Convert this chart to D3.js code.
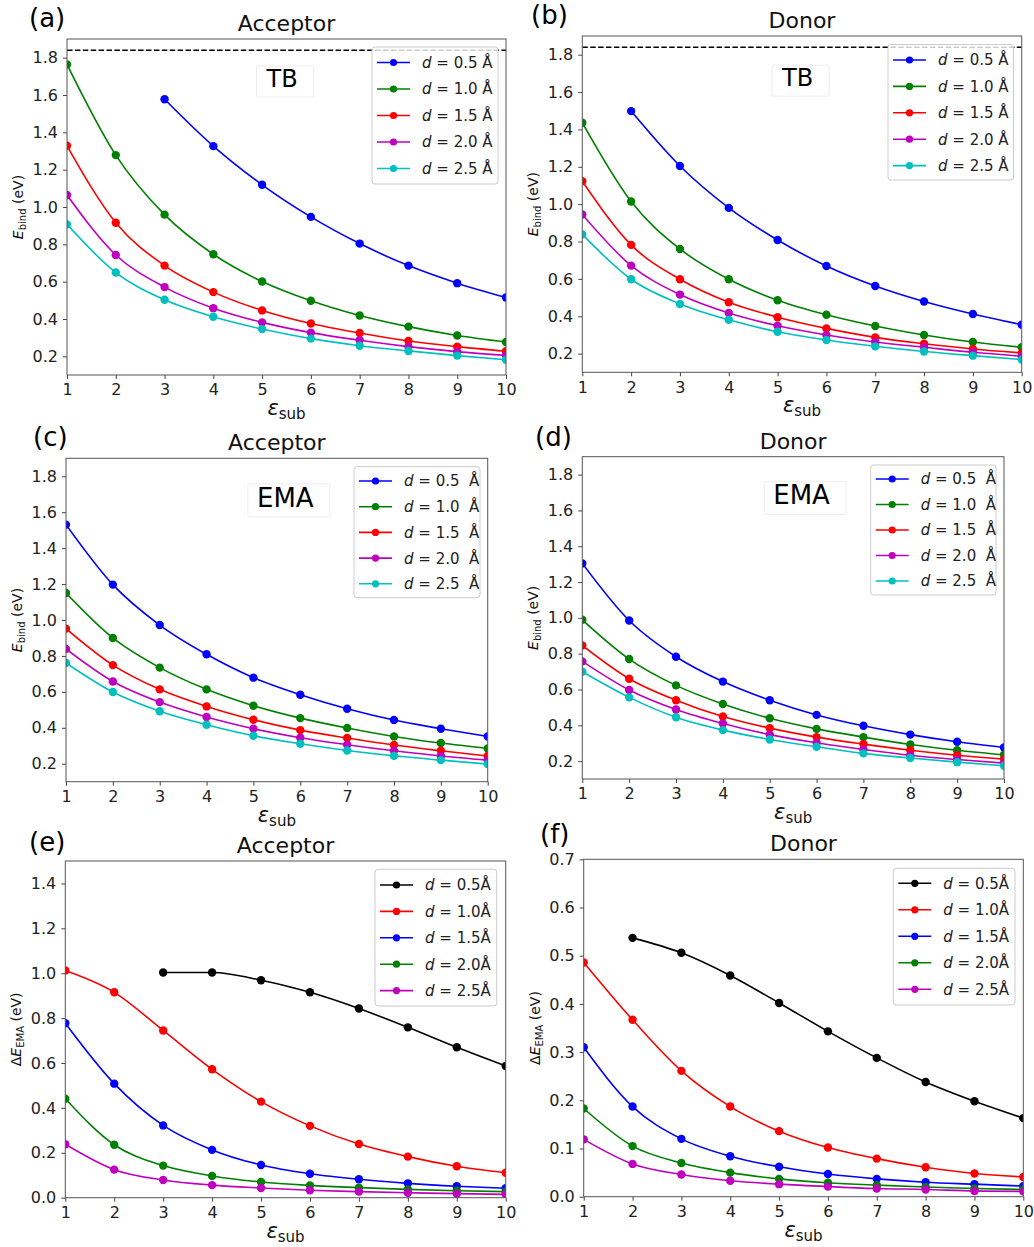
<!DOCTYPE html>
<html>
<head>
<meta charset="utf-8">
<script src="https://cdn.jsdelivr.net/npm/d3@7"></script>
<style>
  html, body { margin: 0; padding: 0; background: #fff; }
  svg { display: block; font-family: "DejaVu Sans", sans-serif; }
</style>
</head>
<body>
<svg id="fig" width="1034" height="1247"></svg>
<script>
// ---------------- data ----------------
const epsSub = [1, 2, 3, 4, 5, 6, 7, 8, 9, 10];
const dLabels = ["0.5", "1.0", "1.5", "2.0", "2.5"];
const ebindTicks = [0.2, 0.4, 0.6, 0.8, 1.0, 1.2, 1.4, 1.6, 1.8];
const deltaAccTicks = [0.0, 0.2, 0.4, 0.6, 0.8, 1.0, 1.2, 1.4];
const deltaDonTicks = [0.0, 0.1, 0.2, 0.3, 0.4, 0.5, 0.6, 0.7];
const xTicks = [1, 2, 3, 4, 5, 6, 7, 8, 9, 10];
const tbGapLine = 1.84;

// (a) TB acceptor
const tbAcc05 = [null, null, 1.577, 1.326, 1.119, 0.947, 0.804, 0.686, 0.592, 0.515];
const tbAcc10 = [1.764, 1.278, 0.959, 0.747, 0.601, 0.498, 0.419, 0.359, 0.312, 0.277];
const tbAcc15 = [1.328, 0.916, 0.686, 0.544, 0.446, 0.376, 0.325, 0.282, 0.252, 0.227];
const tbAcc20 = [1.064, 0.743, 0.571, 0.458, 0.382, 0.327, 0.286, 0.252, 0.225, 0.204];
const tbAcc25 = [0.907, 0.649, 0.503, 0.412, 0.346, 0.295, 0.257, 0.229, 0.204, 0.182];
// (b) TB donor
const tbDon05 = [null, 1.498, 1.204, 0.980, 0.808, 0.669, 0.562, 0.479, 0.412, 0.355];
const tbDon10 = [1.436, 1.014, 0.760, 0.598, 0.486, 0.408, 0.348, 0.300, 0.262, 0.234];
const tbDon15 = [1.123, 0.782, 0.598, 0.475, 0.395, 0.335, 0.287, 0.253, 0.225, 0.204];
const tbDon20 = [0.945, 0.671, 0.516, 0.417, 0.349, 0.300, 0.262, 0.234, 0.207, 0.186];
const tbDon25 = [0.838, 0.598, 0.466, 0.381, 0.317, 0.273, 0.239, 0.211, 0.189, 0.168];
// (c) EMA acceptor
const emaAcc05 = [1.531, 1.197, 0.972, 0.809, 0.679, 0.584, 0.506, 0.443, 0.395, 0.352];
const emaAcc10 = [1.150, 0.900, 0.735, 0.614, 0.523, 0.454, 0.399, 0.352, 0.315, 0.285];
const emaAcc15 = [0.952, 0.749, 0.614, 0.519, 0.445, 0.387, 0.343, 0.304, 0.272, 0.243];
const emaAcc20 = [0.839, 0.658, 0.543, 0.460, 0.395, 0.345, 0.306, 0.272, 0.243, 0.220];
const emaAcc25 = [0.761, 0.599, 0.492, 0.417, 0.356, 0.311, 0.274, 0.244, 0.220, 0.198];
// (d) EMA donor
const emaDon05 = [1.304, 0.985, 0.783, 0.644, 0.540, 0.458, 0.397, 0.348, 0.308, 0.276];
const emaDon10 = [0.989, 0.770, 0.623, 0.519, 0.439, 0.380, 0.334, 0.293, 0.261, 0.235];
const emaDon15 = [0.846, 0.660, 0.540, 0.449, 0.384, 0.334, 0.295, 0.261, 0.233, 0.211];
const emaDon20 = [0.757, 0.597, 0.488, 0.410, 0.348, 0.302, 0.265, 0.233, 0.209, 0.189];
const emaDon25 = [0.699, 0.556, 0.445, 0.373, 0.321, 0.280, 0.243, 0.217, 0.194, 0.174];
// (e) Delta E_EMA acceptor
const dAcc05 = [null, null, 1.003, 1.003, 0.969, 0.915, 0.843, 0.759, 0.670, 0.587];
const dAcc10 = [1.012, 0.915, 0.745, 0.572, 0.428, 0.320, 0.239, 0.183, 0.140, 0.111];
const dAcc15 = [0.777, 0.508, 0.322, 0.213, 0.146, 0.107, 0.082, 0.064, 0.051, 0.042];
const dAcc20 = [0.441, 0.236, 0.143, 0.097, 0.070, 0.055, 0.045, 0.037, 0.031, 0.027];
const dAcc25 = [0.238, 0.125, 0.079, 0.056, 0.043, 0.033, 0.027, 0.022, 0.018, 0.015];
// (f) Delta E_EMA donor
const dDon05 = [null, 0.537, 0.506, 0.459, 0.402, 0.343, 0.288, 0.238, 0.198, 0.163];
const dDon10 = [0.486, 0.367, 0.261, 0.187, 0.136, 0.102, 0.079, 0.061, 0.048, 0.041];
const dDon15 = [0.310, 0.187, 0.120, 0.084, 0.062, 0.047, 0.037, 0.030, 0.026, 0.022];
const dDon20 = [0.183, 0.105, 0.070, 0.050, 0.037, 0.029, 0.024, 0.020, 0.017, 0.015];
const dDon25 = [0.119, 0.068, 0.046, 0.033, 0.026, 0.021, 0.017, 0.015, 0.012, 0.011];

const colorsEbind = ["#0000ff", "#008000", "#ff0000", "#bf00bf", "#00bfbf"];
const colorsDelta = ["#000000", "#ff0000", "#0000ff", "#008000", "#bf00bf"];

// ---------------- layout ----------------
const panels = [
  { tag: "(a)", title: "Acceptor", kind: "ebind", method: "TB", dashed: true,
    box: [67, 39, 506, 375], ydom: [0.1, 1.9], yticks: ebindTicks,
    series: [tbAcc05, tbAcc10, tbAcc15, tbAcc20, tbAcc25], colors: colorsEbind,
    tagPos: [29, 27], methodPos: [0.49, 0.143], legend: [372, 47, 126, 137, 15.5, 26.5], legendGap: " " },
  { tag: "(b)", title: "Donor", kind: "ebind", method: "TB", dashed: true,
    box: [582.3, 36, 1021.7, 372.3], ydom: [0.1, 1.9], yticks: ebindTicks,
    series: [tbDon05, tbDon10, tbDon15, tbDon20, tbDon25], colors: colorsEbind,
    tagPos: [531, 24], methodPos: [0.49, 0.149], legend: [888, 44.5, 125.5, 135.5, 15.5, 26.4], legendGap: " " },
  { tag: "(c)", title: "Acceptor", kind: "ebind", method: "EMA", dashed: false,
    box: [66, 458.3, 487.7, 781.7], ydom: [0.1, 1.9], yticks: ebindTicks,
    series: [emaAcc05, emaAcc10, emaAcc15, emaAcc20, emaAcc25], colors: colorsEbind,
    tagPos: [33, 446], methodPos: [0.52, 0.15], legend: [354, 466.7, 126, 131, 14.3, 25.7], legendGap: "  " },
  { tag: "(d)", title: "Donor", kind: "ebind", method: "EMA", dashed: false,
    box: [582.3, 456.7, 1004, 779], ydom: [0.1, 1.9], yticks: ebindTicks,
    series: [emaDon05, emaDon10, emaDon15, emaDon20, emaDon25], colors: colorsEbind,
    tagPos: [535, 446], methodPos: [0.52, 0.148], legend: [870.7, 465, 125.3, 130, 14, 25.5], legendGap: "  " },
  { tag: "(e)", title: "Acceptor", kind: "delta", method: null, dashed: false,
    box: [65.3, 861, 505.7, 1197.7], ydom: [0, 1.5], yticks: deltaAccTicks,
    series: [dAcc05, dAcc10, dAcc15, dAcc20, dAcc25], colors: colorsDelta,
    tagPos: [29, 851], methodPos: null, legend: [375, 869.3, 121.7, 136.7, 15.7, 26.4], legendGap: "" },
  { tag: "(f)", title: "Donor", kind: "delta", method: null, dashed: false,
    box: [583.7, 859.3, 1023.3, 1196.7], ydom: [0, 0.7], yticks: deltaDonTicks,
    series: [dDon05, dDon10, dDon15, dDon20, dDon25], colors: colorsDelta,
    tagPos: [540, 843], methodPos: null, legend: [893.3, 868.3, 121.7, 136.7, 15, 26.5], legendGap: "" },
];

const svg = d3.select("#fig");
svg.append("rect").attr("width", 1034).attr("height", 1247).attr("fill", "#fff");

panels.forEach(p => {
  const [x0, y0, x1, y1] = p.box;
  const x = d3.scaleLinear().domain([1, 10]).range([x0, x1]);
  const y = d3.scaleLinear().domain(p.ydom).range([y1, y0]);
  const g = svg.append("g");

  // clip
  const clipId = "clip" + p.tag.replace(/[()]/g, "");
  svg.append("clipPath").attr("id", clipId).append("rect")
    .attr("x", x0).attr("y", y0).attr("width", x1 - x0).attr("height", y1 - y0);

  // axes
  const xAxis = d3.axisBottom(x).tickValues(xTicks).tickFormat(d3.format("d")).tickSize(4).tickPadding(5);
  const yAxis = d3.axisLeft(y).tickValues(p.yticks).tickFormat(d3.format(".1f")).tickSize(4).tickPadding(5);
  const gx = g.append("g").attr("transform", `translate(0,${y1})`).call(xAxis);
  const gy = g.append("g").attr("transform", `translate(${x0},0)`).call(yAxis);
  [gx, gy].forEach(a => {
    a.select(".domain").remove();
    a.selectAll(".tick line").attr("stroke", "#444").attr("stroke-width", 1);
    a.selectAll(".tick text").attr("fill", "#222").attr("font-size", 16)
      .attr("font-family", "DejaVu Sans, sans-serif");
  });

  // data layer
  const plot = g.append("g").attr("clip-path", `url(#${clipId})`);
  if (p.dashed) {
    plot.append("line").attr("x1", x0).attr("x2", x1)
      .attr("y1", y(tbGapLine)).attr("y2", y(tbGapLine))
      .attr("stroke", "#000").attr("stroke-width", 1.5).attr("stroke-dasharray", "5.5,2.4");
  }
  const line = d3.line()
    .defined(d => d[1] !== null)
    .x(d => x(d[0])).y(d => y(d[1]))
    .curve(d3.curveMonotoneX);
  p.series.forEach((vals, i) => {
    const pts = epsSub.map((e, k) => [e, vals[k]]);
    plot.append("path").datum(pts).attr("d", line)
      .attr("fill", "none").attr("stroke", p.colors[i]).attr("stroke-width", 1.6);
    plot.selectAll(null).data(pts.filter(d => d[1] !== null)).enter().append("circle")
      .attr("cx", d => x(d[0])).attr("cy", d => y(d[1])).attr("r", 4.2)
      .attr("fill", p.colors[i]);
  });

  // frame
  g.append("rect").attr("x", x0).attr("y", y0).attr("width", x1 - x0).attr("height", y1 - y0)
    .attr("fill", "none").attr("stroke", "#555").attr("stroke-width", 1);

  // method text box
  if (p.method) {
    const mx = x0 + p.methodPos[0] * (x1 - x0);
    const my = y0 + p.methodPos[1] * (y1 - y0);
    const mb = g.append("rect");
    const mt = g.append("text").attr("x", mx).attr("y", my).attr("text-anchor", "middle")
      .attr("font-size", p.method === "TB" ? 24 : 26).attr("fill", "#000").text(p.method);
    const bb = mt.node().getBBox();
    mb.attr("x", bb.x - 9).attr("y", bb.y + 1).attr("width", bb.width + 25).attr("height", bb.height + 3)
      .attr("fill", "#fff").attr("stroke", "#eeeeee").attr("stroke-width", 1).attr("rx", 1);
  }

  // legend
  const [lx, ly, lw, lh, first, step] = p.legend;
  const lg = g.append("g");
  lg.append("rect").attr("x", lx).attr("y", ly).attr("width", lw).attr("height", lh)
    .attr("rx", 3).attr("fill", "#fff").attr("fill-opacity", 0.8)
    .attr("stroke", "#cccccc").attr("stroke-width", 1);
  dLabels.forEach((dl, i) => {
    const ry = ly + first + i * step;
    lg.append("line").attr("x1", lx + 5).attr("x2", lx + 38).attr("y1", ry).attr("y2", ry)
      .attr("stroke", p.colors[i]).attr("stroke-width", 1.6);
    lg.append("circle").attr("cx", lx + 21.5).attr("cy", ry).attr("r", 3.6).attr("fill", p.colors[i]);
    const t = lg.append("text").attr("x", lx + 50).attr("y", ry).attr("dy", "0.36em")
      .attr("font-size", 15).attr("fill", "#222").attr("xml:space", "preserve")
      .style("white-space", "pre");
    t.append("tspan").attr("font-style", "italic").text("d");
    t.append("tspan").text(" = " + dl + p.legendGap + "Å");
  });

  // title
  g.append("text").attr("x", (x0 + x1) / 2).attr("y", y0 - 8).attr("text-anchor", "middle")
    .attr("font-size", 22).attr("fill", "#111").text(p.title);
  // panel tag
  g.append("text").attr("x", p.tagPos[0]).attr("y", p.tagPos[1])
    .attr("font-size", 26).attr("fill", "#000").text(p.tag);

  // x label
  const xl = g.append("text").attr("x", (x0 + x1) / 2).attr("y", y1 + 40)
    .attr("text-anchor", "middle").attr("fill", "#111");
  xl.append("tspan").attr("font-size", 21).attr("font-style", "italic").text("ε");
  xl.append("tspan").attr("font-size", 15).attr("dy", 4).text("sub");

  // y label
  const yl = g.append("text")
    .attr("transform", `translate(${x0 - 44},${(y0 + y1) / 2}) rotate(-90)`)
    .attr("text-anchor", "middle").attr("fill", "#111").attr("font-size", 14);
  if (p.kind === "delta") yl.append("tspan").text("Δ");
  yl.append("tspan").attr("font-style", "italic").text("E");
  yl.append("tspan").attr("font-size", 10).attr("dy", 3).text(p.kind === "delta" ? "EMA" : "bind");
  yl.append("tspan").attr("dy", -3).text(" (eV)");
});
</script>
</body>
</html>
